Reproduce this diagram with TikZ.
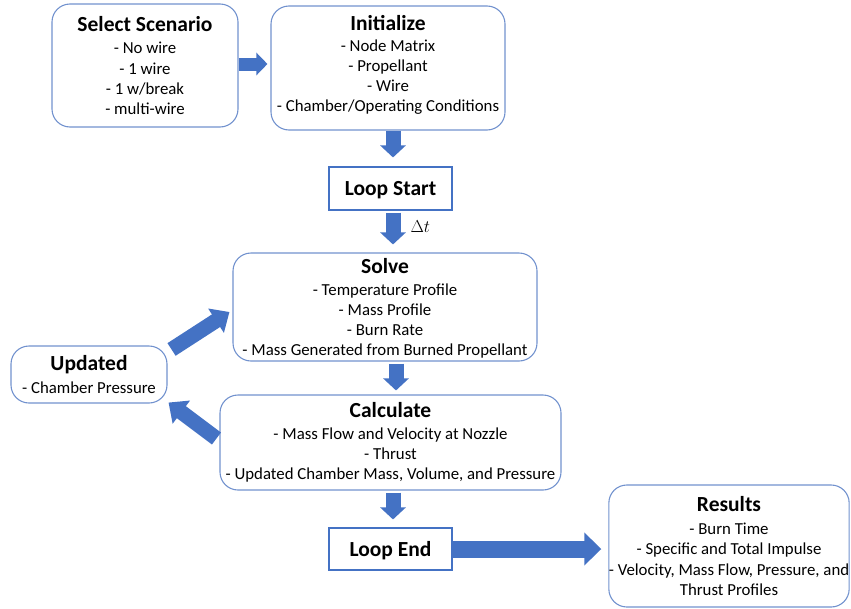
\documentclass[tikz,border=0pt]{standalone}
\usepackage{fontspec}
\setmainfont{Carlito}
\usetikzlibrary{arrows.meta,calc}
\definecolor{arrowblue}{HTML}{4472C4}
\definecolor{boxblue}{HTML}{7292CE}
\newcommand{\ttl}[1]{{\fontsize{21.5}{24}\selectfont\bfseries #1}}
\tikzset{
  rbox/.style={draw=boxblue, line width=1.1pt, rounded corners=18pt, align=center, inner sep=0pt, text=black,
    font=\fontsize{16.8}{20.2}\selectfont},
  sbox/.style={draw=arrowblue, line width=1.1pt, align=center, inner sep=0pt, text=black, text depth=0pt,
    font=\fontsize{21.5}{24}\selectfont\bfseries},
  barrow/.style={draw=arrowblue, line width=15pt, -{Triangle[length=12pt,width=25pt]}},
  bigarrow/.style={draw=arrowblue, line width=17pt, -{Triangle[length=17pt,width=32pt]}},
  diagarrow/.style={draw=arrowblue, line width=15pt, -{Triangle[length=16pt,width=28pt]}},
}
\begin{document}
\begin{tikzpicture}[x=1pt,y=-1pt]
\useasboundingbox (0,0) rectangle (851,608);

\node[rbox, text depth=0pt, minimum width=186pt, minimum height=123pt] (sel) at (145,65.5)
  {\ttl{Select Scenario}\\[2pt] - No wire\\ - 1 wire\\ - 1 w/break\\ - multi-wire};
\node[rbox, text depth=9pt, minimum width=234pt, minimum height=124pt] (init) at (388,68)
  {\ttl{Initialize}\\[1pt] - Node Matrix\\ - Propellant\\ - Wire\\ - Chamber/Operating Conditions};
\node[sbox, minimum width=123pt, minimum height=43pt] (ls) at (390.5,188.5) {Loop Start};
\node[rbox, text depth=0pt, minimum width=304pt, minimum height=108pt] (solve) at (385,307)
  {\ttl{Solve}\\[2pt] - Temperature Profile\\ - Mass Profile\\ - Burn Rate\\ - Mass Generated from Burned Propellant};
\node[rbox, minimum width=156pt, minimum height=57pt] (upd) at (89,374.5)
  {\ttl{Updated}\\[2pt] - Chamber Pressure};
\node[rbox, minimum width=341pt, minimum height=95pt] (calc) at (390.5,442.5)
  {\ttl{Calculate}\\[1pt] - Mass Flow and Velocity at Nozzle\\ - Thrust\\ - Updated Chamber Mass, Volume, and Pressure};
\node[sbox, minimum width=123pt, minimum height=42pt] (le) at (390.5,549) {Loop End};
\node[rbox, minimum width=240pt, minimum height=122pt] (res) at (729,546)
  {\ttl{Results}\\[3pt] - Burn Time\\ - Specific and Total Impulse\\ - Velocity, Mass Flow, Pressure, and\\ Thrust Profiles};

\node[font=\fontsize{19}{22}\selectfont, anchor=west] (dt) at (407,227) {$\Delta t$};

% connectors
\draw[draw=arrowblue, line width=13pt, -{Triangle[length=11pt,width=22pt]}]
  ($(sel.east)+(0,-1.5)$) -- ($(init.west)+(-3,-4)$);
\draw[barrow] ($(init.south)+(5,0)$) -- ($(ls.north)+(2.5,-9)$);
\draw[barrow] ($(ls.south)+(2.5,2)$) -- ($(solve.north)+(8,-8)$);
\draw[barrow] ($(solve.south)+(11,2)$) -- ($(calc.north)+(5.5,-4)$);
\draw[barrow] ($(calc.south)+(2.5,2)$) -- ($(le.north)+(2.5,-8)$);
\draw[bigarrow] (le.east) -- ($(res.west)+(-7,3)$);
\draw[diagarrow] ($(upd.north east)+(4,4)$) -- ($(solve.west)+(-3,5)$);
\draw[diagarrow] ($(calc.west)+(-3,-4)$) -- ($(upd.south east)+(1,-1)$);
\end{tikzpicture}
\end{document}
